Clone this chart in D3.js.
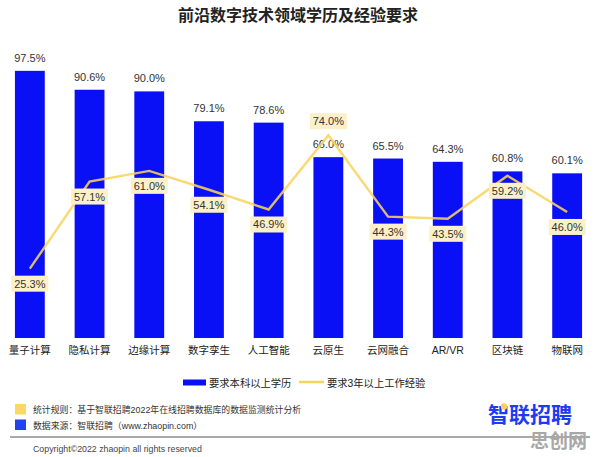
<!DOCTYPE html>
<html>
<head>
<meta charset="utf-8">
<script src="https://cdn.jsdelivr.net/npm/d3@7"></script>
<style>
  body { margin: 0; background: #fff; }
  svg { display: block; font-family: "Liberation Sans", "Noto Sans CJK SC", sans-serif; }
</style>
</head>
<body>
<div id="chart"></div>
<script>
var categories = ['量子计算', '隐私计算', '边缘计算', '数字孪生', '人工智能', '云原生', '云网融合', 'AR/VR', '区块链', '物联网'];
var degreeValues = [97.5, 90.6, 90.0, 79.1, 78.6, 66.0, 65.5, 64.3, 60.8, 60.1];
var experienceValues = [25.3, 57.1, 61.0, 54.1, 46.9, 74.0, 44.3, 43.5, 59.2, 46.0];
var seriesNames = ['要求本科以上学历', '要求3年以上工作经验'];
var noteLines = ['统计规则：基于智联招聘2022年在线招聘数据库的数据监测统计分析', '数据来源：智联招聘（www.zhaopin.com）'];

var width = 596,
    height = 457;

var blue = '#0a10f5',
    yellow = '#f8d45c';

var svg = d3.select('#chart').append('svg')
    .attr('width', width)
    .attr('height', height);

svg.append('text')
    .attr('x', 298)
    .attr('y', 21)
    .attr('text-anchor', 'middle')
    .style('font-family', '"Noto Sans CJK SC", sans-serif')
    .style('font-size', '16px')
    .style('font-weight', 'bold')
    .style('fill', '#222')
    .text('前沿数字技术领域学历及经验要求');

var x = d3.scaleBand()
    .domain(categories)
    .range([0, 597])
    .paddingInner(0.5)
    .paddingOuter(0.25);

var y = d3.scaleLinear()
    .domain([0, 100])
    .range([338, 64]);

var data = categories.map(function(c, i) {
    return { cat: c, deg: degreeValues[i], exp: experienceValues[i] };
});

// bars
svg.append('g').selectAll('rect')
    .data(data)
    .enter()
    .append('rect')
    .attr('x', function(d) { return x(d.cat); })
    .attr('y', function(d) { return y(d.deg); })
    .attr('width', x.bandwidth())
    .attr('height', function(d) { return y(0) - y(d.deg); })
    .style('fill', blue);

svg.append('g').selectAll('text')
    .data(data)
    .enter()
    .append('text')
    .attr('x', function(d) { return x(d.cat) + x.bandwidth() / 2; })
    .attr('y', function(d) { return y(d.deg) - 9; })
    .attr('text-anchor', 'middle')
    .style('font-size', '11px')
    .style('fill', '#333')
    .text(function(d) { return d.deg.toFixed(1) + '%'; });

// category labels
svg.append('g').selectAll('text')
    .data(categories)
    .enter()
    .append('text')
    .attr('x', function(d) { return x(d) + x.bandwidth() / 2; })
    .attr('y', 354)
    .attr('text-anchor', 'middle')
    .style('font-size', '10.5px')
    .style('fill', '#222')
    .text(function(d) { return d; });

// line
var line = d3.line()
    .x(function(d) { return x(d.cat) + x.bandwidth() / 2; })
    .y(function(d) { return y(d.exp); });

svg.append('path')
    .datum(data)
    .attr('d', line)
    .style('fill', 'none')
    .style('stroke', yellow)
    .style('stroke-width', 2.4)
    .style('opacity', 0.88);

var lbl = svg.append('g').selectAll('g')
    .data(data)
    .enter()
    .append('g')
    .attr('transform', function(d, i) {
        var cy = i == 5 ? y(d.exp) - 14 : y(d.exp) + 15;
        return 'translate(' + (x(d.cat) + x.bandwidth() / 2) + ',' + cy + ')';
    });

lbl.append('rect')
    .attr('x', -18.5)
    .attr('y', -8)
    .attr('width', 37)
    .attr('height', 16)
    .style('fill', '#fcf0c8');

lbl.append('text')
    .attr('y', 4)
    .attr('text-anchor', 'middle')
    .style('font-size', '11px')
    .style('fill', '#333')
    .text(function(d) { return d.exp.toFixed(1) + '%'; });

// legend
var legend = svg.append('g');
legend.append('rect')
    .attr('x', 183).attr('y', 379.5)
    .attr('width', 23).attr('height', 6)
    .style('fill', blue);
legend.append('text')
    .attr('x', 209).attr('y', 386.5)
    .style('font-size', '10.3px')
    .style('fill', '#222')
    .text(seriesNames[0]);
legend.append('line')
    .attr('x1', 299).attr('x2', 324)
    .attr('y1', 382).attr('y2', 382)
    .style('stroke', yellow)
    .style('stroke-width', 2.5);
legend.append('text')
    .attr('x', 327).attr('y', 386.5)
    .style('font-size', '10.3px')
    .style('fill', '#222')
    .text(seriesNames[1]);

// notes
var noteColors = ['#fbd764', '#2242f5'];
var notes = svg.append('g').selectAll('g')
    .data(noteLines)
    .enter()
    .append('g')
    .attr('transform', function(d, i) { return 'translate(0,' + (404 + i * 15.5) + ')'; });

notes.append('rect')
    .attr('x', 15).attr('y', 0)
    .attr('width', 11).attr('height', 10.5)
    .style('fill', function(d, i) { return noteColors[i]; });

notes.append('text')
    .attr('x', 33).attr('y', 9)
    .style('font-size', '8.9px')
    .style('fill', '#333')
    .text(function(d) { return d; });

svg.append('line')
    .attr('x1', 10).attr('x2', 590)
    .attr('y1', 437).attr('y2', 437)
    .style('stroke', '#555')
    .style('stroke-width', 1);

svg.append('text')
    .attr('x', 33).attr('y', 451.5)
    .style('font-size', '8.8px')
    .style('fill', '#444')
    .text('Copyright©2022 zhaopin all rights reserved');

// logo
svg.append('text')
    .attr('x', 488).attr('y', 421.5)
    .style('font-family', '"Noto Sans CJK SC", sans-serif')
    .style('font-size', '21px')
    .style('font-weight', 'bold')
    .style('fill', '#1d3cf2')
    .text('智联招聘');
svg.append('circle')
    .attr('cx', 504).attr('cy', 406.5)
    .attr('r', 3.2)
    .style('fill', '#fbd15b');

// watermark
svg.append('text')
    .attr('x', 530).attr('y', 448)
    .style('font-family', '"Noto Sans CJK SC", sans-serif')
    .style('font-size', '19px')
    .style('font-weight', 'bold')
    .style('fill', '#a8a8a8')
    .text('思创网');
</script>
</body>
</html>
